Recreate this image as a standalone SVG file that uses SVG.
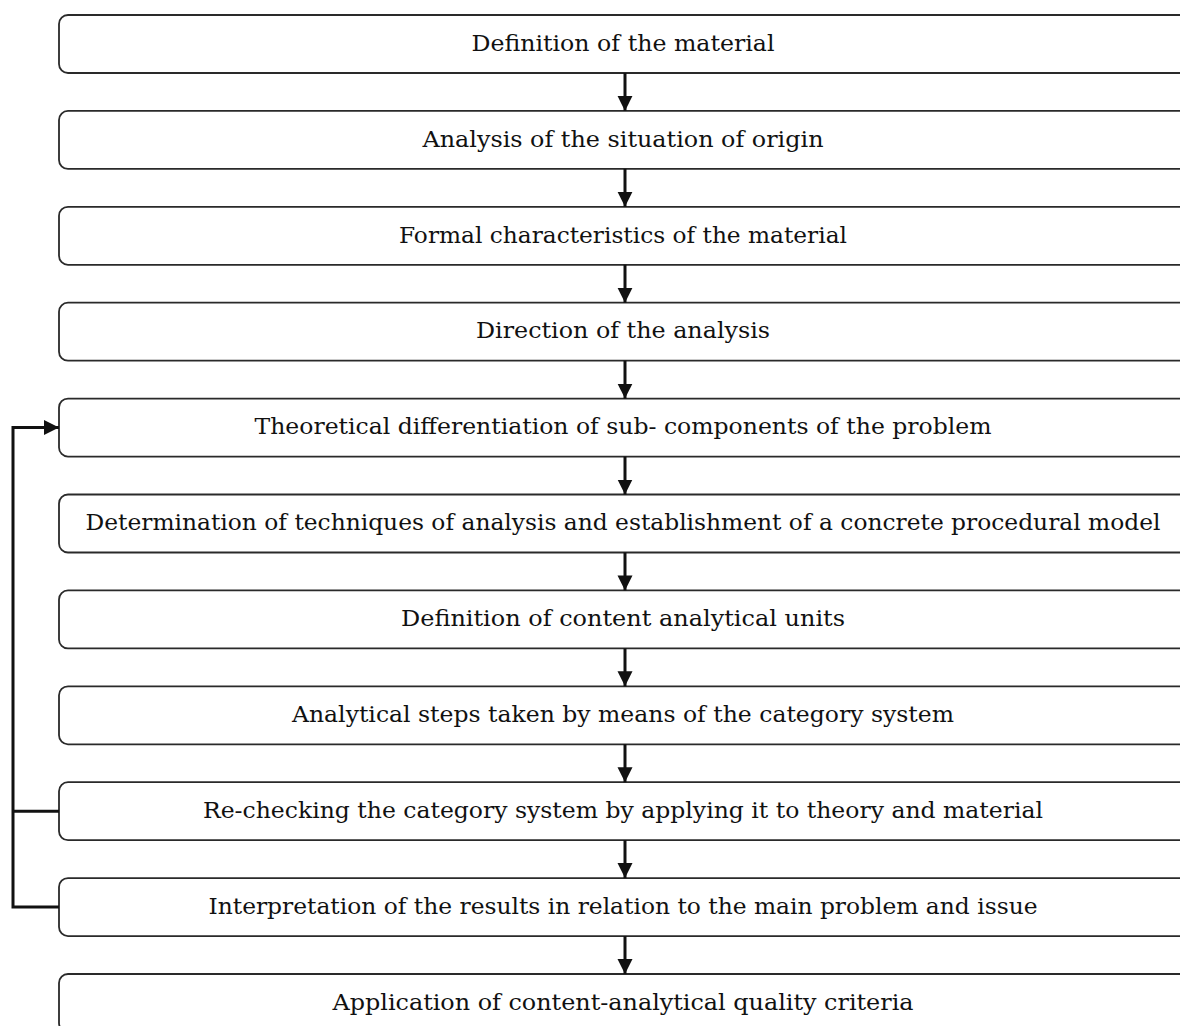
<svg xmlns="http://www.w3.org/2000/svg" width="1180" height="1026" viewBox="0 0 1180 1026">
<defs>
<marker id="ah" markerWidth="16" markerHeight="16" refX="15" refY="7.5" orient="auto" markerUnits="userSpaceOnUse">
<path d="M0,0 L15,7.5 L0,15 Z" fill="#111"/>
</marker>
<style>
.box{fill:#fff;stroke:#2a2a2a;stroke-width:1.8}
.lbl{font-family:"DejaVu Serif","Liberation Serif",serif;font-size:23px;fill:#111;text-anchor:middle}
.con{fill:none;stroke:#111;stroke-width:3}
</style>
</defs>
<rect width="1180" height="1026" fill="#fff"/>
<g id="n1"><rect class="box" x="59" y="15" width="1132" height="58" rx="9"/><text class="lbl" x="623" y="51" textLength="303" lengthAdjust="spacingAndGlyphs">Definition of the material</text></g>
<g id="n2"><rect class="box" x="59" y="110.9" width="1132" height="58" rx="9"/><text class="lbl" x="623" y="147" textLength="401" lengthAdjust="spacingAndGlyphs">Analysis of the situation of origin</text></g>
<g id="n3"><rect class="box" x="59" y="206.8" width="1132" height="58" rx="9"/><text class="lbl" x="623" y="243" textLength="448" lengthAdjust="spacingAndGlyphs">Formal characteristics of the material</text></g>
<g id="n4"><rect class="box" x="59" y="302.7" width="1132" height="58" rx="9"/><text class="lbl" x="623" y="338" textLength="294" lengthAdjust="spacingAndGlyphs">Direction of  the analysis</text></g>
<g id="n5"><rect class="box" x="59" y="398.6" width="1132" height="58" rx="9"/><text class="lbl" x="623" y="434" textLength="737" lengthAdjust="spacingAndGlyphs">Theoretical differentiation of sub- components of  the problem</text></g>
<g id="n6"><rect class="box" x="59" y="494.5" width="1132" height="58" rx="9"/><text class="lbl" x="623" y="530" textLength="1075" lengthAdjust="spacingAndGlyphs">Determination of  techniques of analysis and establishment of a concrete procedural model</text></g>
<g id="n7"><rect class="box" x="59" y="590.4" width="1132" height="58" rx="9"/><text class="lbl" x="623" y="626" textLength="444" lengthAdjust="spacingAndGlyphs">Definition of content analytical units</text></g>
<g id="n8"><rect class="box" x="59" y="686.3" width="1132" height="58" rx="9"/><text class="lbl" x="623" y="722" textLength="662" lengthAdjust="spacingAndGlyphs">Analytical steps taken by means of the category system</text></g>
<g id="n9"><rect class="box" x="59" y="782.2" width="1132" height="58" rx="9"/><text class="lbl" x="623" y="818" textLength="840" lengthAdjust="spacingAndGlyphs">Re-checking the category system by applying it to theory and material</text></g>
<g id="n10"><rect class="box" x="59" y="878.1" width="1132" height="58" rx="9"/><text class="lbl" x="623" y="914" textLength="829" lengthAdjust="spacingAndGlyphs">Interpretation of the results in relation to the main problem and issue</text></g>
<g id="n11"><rect class="box" x="59" y="974" width="1132" height="58" rx="9"/><text class="lbl" x="623" y="1010" textLength="581" lengthAdjust="spacingAndGlyphs">Application of content-analytical quality criteria</text></g>
<g id="connectors">
<line class="con" x1="625" y1="73" x2="625" y2="110.9" marker-end="url(#ah)"/>
<line class="con" x1="625" y1="168.9" x2="625" y2="206.8" marker-end="url(#ah)"/>
<line class="con" x1="625" y1="264.8" x2="625" y2="302.7" marker-end="url(#ah)"/>
<line class="con" x1="625" y1="360.7" x2="625" y2="398.6" marker-end="url(#ah)"/>
<line class="con" x1="625" y1="456.6" x2="625" y2="494.5" marker-end="url(#ah)"/>
<line class="con" x1="625" y1="552.5" x2="625" y2="590.4" marker-end="url(#ah)"/>
<line class="con" x1="625" y1="648.4" x2="625" y2="686.3" marker-end="url(#ah)"/>
<line class="con" x1="625" y1="744.3" x2="625" y2="782.2" marker-end="url(#ah)"/>
<line class="con" x1="625" y1="840.2" x2="625" y2="878.1" marker-end="url(#ah)"/>
<line class="con" x1="625" y1="936.1" x2="625" y2="974" marker-end="url(#ah)"/>
<path class="con" d="M59,907.1 H13 V427.6 H59" marker-end="url(#ah)"/>
<line class="con" x1="59" y1="811.2" x2="13" y2="811.2"/>
</g>
</svg>
